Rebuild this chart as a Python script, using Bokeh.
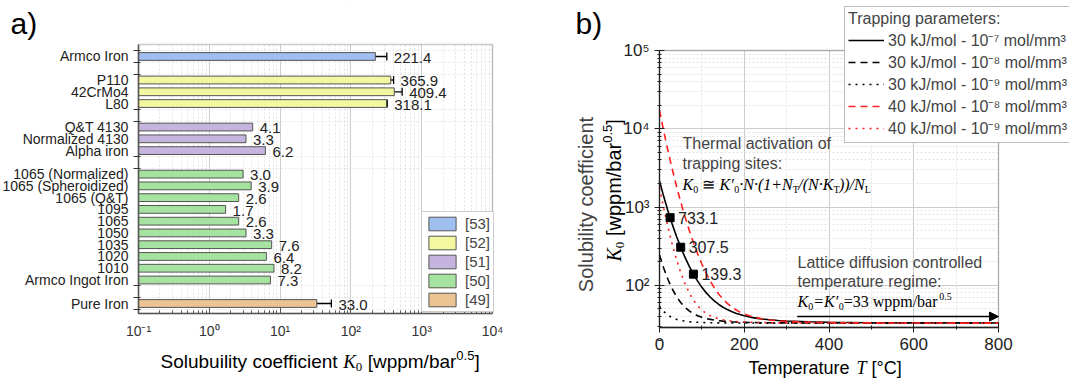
import math
from bokeh.plotting import figure
from bokeh.layouts import row
from bokeh.models import (Range1d, FixedTicker, CustomJSTickFormatter, Label, Legend, LegendItem,
                          Whisker, TeeHead, ColumnDataSource, Arrow, NormalHead, BoxAnnotation)
from bokeh.core.properties import value
from bokeh.embed import file_html
from bokeh.resources import INLINE

# ---------------- Panel a data ----------------
materials = ["Armco Iron", "P110", "42CrMo4", "L80", "Q&T 4130", "Normalized 4130", "Alpha iron",
             "1065 (Normalized)", "1065 (Spheroidized)", "1065 (Q&T)", "1095", "1065", "1050",
             "1035", "1020", "1010", "Armco Ingot Iron", "Pure Iron"]
slots = [0, 2, 3, 4, 6, 7, 8, 10, 11, 12, 13, 14, 15, 16, 17, 18, 19, 21]
k0_values = [221.4, 365.9, 409.4, 318.1, 4.1, 3.3, 6.2, 3.0, 3.9, 2.6, 1.7, 2.6, 3.3,
             7.6, 6.4, 8.2, 7.3, 33.0]
k0_errors = [100.0, 35.0, 120.0, 8.0, 0, 0, 0, 0, 0, 0, 0, 0, 0, 0, 0, 0, 0, 20.0]
references = ["[53]", "[52]", "[52]", "[52]", "[51]", "[51]", "[51]", "[50]", "[50]", "[50]",
              "[50]", "[50]", "[50]", "[50]", "[50]", "[50]", "[50]", "[49]"]
ref_order = ["[53]", "[52]", "[51]", "[50]", "[49]"]
ref_colors = ["#a0bef0", "#f2f7a0", "#c5b5de", "#a6e2a0", "#ecc494"]
group_bounds = [-0.5, 0.5, 1.5, 4.5, 5.5, 8.5, 9.5, 19.5, 20.5, 21.5]
decades_a = [0.1, 1, 10, 100, 1000, 10000]

# ---------------- Panel b data ----------------
temperature = [0, 10, 20, 30, 40, 50, 60, 70, 80, 90, 100, 110, 120, 130, 140, 150, 160, 170,
               180, 190, 200, 220, 240, 260, 280, 300, 350, 400, 500, 600, 700, 800]
k0_30_1e7 = [2152.7, 1362.3, 893.6, 606.4, 425.1, 307.5, 229.4, 176.2, 139.3, 113.3, 94.5, 80.8,
             70.6, 62.9, 57.1, 52.6, 49.1, 46.3, 44.2, 42.4, 41.0, 38.8, 37.4, 36.4, 35.6, 35.1,
             34.3, 33.8, 33.4, 33.2, 33.2, 33.1]
k0_30_1e8 = [245.0, 165.9, 119.1, 90.3, 72.2, 60.4, 52.6, 47.3, 43.6, 41.0, 39.1, 37.8, 36.8,
             36.0, 35.4, 35.0, 34.6, 34.3, 34.1, 33.9, 33.8, 33.6, 33.4, 33.3, 33.3, 33.2, 33.1,
             33.1, 33.0, 33.0, 33.0, 33.0]
k0_30_1e9 = [54.2, 46.3, 41.6, 38.7, 36.9, 35.7, 35.0, 34.4, 34.1, 33.8, 33.6, 33.5, 33.4, 33.3,
             33.2, 33.2, 33.2, 33.1, 33.1, 33.1, 33.1, 33.1, 33.0, 33.0, 33.0, 33.0, 33.0, 33.0,
             33.0, 33.0, 33.0, 33.0]
k0_40_1e8 = [17360, 9332, 5241, 3064, 1859, 1168, 759.3, 509.8, 353.4, 253.2, 187.4, 143.3,
             113.1, 92.2, 77.3, 66.6, 58.9, 53.1, 48.9, 45.6, 43.1, 39.7, 37.6, 36.2, 35.3, 34.7,
             33.9, 33.5, 33.2, 33.1, 33.0, 33.0]
k0_40_1e9 = [1765.7, 962.9, 553.8, 336.1, 215.6, 146.5, 105.6, 80.7, 65.0, 55.0, 48.4, 44.0,
             41.0, 38.9, 37.4, 36.4, 35.6, 35.0, 34.6, 34.3, 34.0, 33.7, 33.5, 33.3, 33.2, 33.2,
             33.1, 33.0, 33.0, 33.0, 33.0, 33.0]
series_labels = ["30 kJ/mol - 10\u207b\u2077 mol/mm\u00b3", "30 kJ/mol - 10\u207b\u2078 mol/mm\u00b3",
                 "30 kJ/mol - 10\u207b\u2079 mol/mm\u00b3", "40 kJ/mol - 10\u207b\u2078 mol/mm\u00b3",
                 "40 kJ/mol - 10\u207b\u2079 mol/mm\u00b3"]
marker_T = [25, 50, 80]
marker_K = [733.1, 307.5, 139.3]
arrow_T = [325, 800]
arrow_K = 40
x_ticks_b = [0, 200, 400, 600, 800]
y_ticks_b = [100, 1000, 10000, 100000]

SANS = "Liberation Sans"
SERIF = "Liberation Serif"
BASELINE_FIX = 0.33   # em shift so that the alphabetic baseline lands where asked

SUP_JS = """
const s = {'-':'\u207b','0':'\u2070','1':'\u00b9','2':'\u00b2','3':'\u00b3','4':'\u2074',
           '5':'\u2075','6':'\u2076','7':'\u2077','8':'\u2078','9':'\u2079'};
const e = Math.round(Math.log10(tick));
return '10' + String(e).split('').map(c => s[c]).join('');
"""


def char_w(c, serif):
    if serif:
        t = {' ': 250, 'K': 667, 'N': 667, 'T': 556, 'L': 556, '(': 333, ')': 333, '+': 675,
             '/': 278, '\u00b7': 250, '\u2245': 838, '\u2032': 250, '=': 675, '.': 250,
             'w': 667, 'p': 500, 'm': 722, 'b': 500, 'a': 500, 'r': 389}
        return t.get(c, 500)
    t = {' ': 278, 'i': 222, 'l': 222, 'j': 222, 'f': 278, 't': 278, '/': 278, '[': 278,
         ']': 278, '.': 278, ',': 278, ':': 278, 'I': 278, 'r': 333, '(': 333, ')': 333,
         '-': 333, '\u00b0': 400, 'c': 500, 'k': 500, 's': 500, 'v': 500, 'x': 500, 'y': 500,
         'z': 500, 'J': 500, 'w': 722, 'C': 722, 'D': 722, 'H': 722, 'N': 722, 'R': 722,
         'm': 833, 'M': 833, 'T': 611, 'F': 611, 'S': 667, 'K': 667, 'E': 667, 'A': 667}
    return t.get(c, 556)


def text_w(txt, size, font):
    return sum(char_w(c, font == SERIF) for c in txt) / 1000.0 * size


def add_label(p, anchor, H, px, py, text, **kw):
    """Place a Label at canvas pixel (px, py) measured from the top-left of the figure."""
    p.add_layout(Label(x=anchor[0], y=anchor[1], x_offset=px, y_offset=H - py, text=text, **kw))


def rich(p, anchor, H, x0, y0, pieces, angle=0.0):
    """pieces: (text, size, font, style, rise_px); x0, y0: canvas px of the baseline start."""
    ca, sa = math.cos(angle), math.sin(angle)
    adv = 0.0
    for txt, size, font, style, rise in pieces:
        lead = txt[:len(txt) - len(txt.lstrip(" "))]
        adv += text_w(lead, size, font)
        body = txt.lstrip(" ")
        r = rise + BASELINE_FIX * size
        px = x0 + ca * adv - sa * r
        py = y0 - sa * adv - ca * r
        add_label(p, anchor, H, px, py, body, text_font=font, text_font_size=f"{size}px",
                  text_font_style=style, text_baseline="alphabetic", text_align="left",
                  angle=angle, text_color="black")
        adv += text_w(body, size, font)


def white_strip(p, **kw):
    p.add_layout(BoxAnnotation(fill_color="white", fill_alpha=1.0, line_alpha=0.0,
                               level="underlay", **kw))


# ================= Panel a =================
WA, HA = 540, 379
BOX_A = dict(left=138, right=492, top=44, bottom=313)     # plot box in canvas px
X_LO_A, X_HI_A = 0.1, 10000.0
Y_TOP_A, Y_BOT_A = -1.02, 21.85
ppd_a = (BOX_A["right"] - BOX_A["left"]) / (math.log10(X_HI_A) - math.log10(X_LO_A))
xa0 = 10 ** (math.log10(X_LO_A) - BOX_A["left"] / ppd_a)
xa1 = 10 ** (math.log10(X_HI_A) + (WA - BOX_A["right"]) / ppd_a)
pps_a = (BOX_A["bottom"] - BOX_A["top"]) / (Y_BOT_A - Y_TOP_A)
ya_top = Y_TOP_A - BOX_A["top"] / pps_a
ya_bot = Y_BOT_A + (HA - BOX_A["bottom"]) / pps_a

pa = figure(width=WA, height=HA, x_axis_type="log", x_range=Range1d(xa0, xa1),
            y_range=Range1d(ya_bot, ya_top), output_backend="svg", toolbar_location=None,
            min_border=0, min_border_left=0, min_border_right=0, min_border_top=0,
            min_border_bottom=0)
pa.outline_line_color = None
pa.background_fill_color = "white"
pa.border_fill_color = "white"
pa.xgrid.level = "image"
pa.ygrid.level = "image"

white_strip(pa, right=X_LO_A)
white_strip(pa, left=X_HI_A)
white_strip(pa, bottom=Y_TOP_A)
white_strip(pa, top=Y_BOT_A)

renderers_a = []
for ref, col in zip(ref_order, ref_colors):
    idx = [i for i, r in enumerate(references) if r == ref]
    src = ColumnDataSource(dict(y=[slots[i] for i in idx], right=[k0_values[i] for i in idx]))
    r = pa.hbar(y="y", right="right", left=X_LO_A, height=0.66, source=src, fill_color=col,
                line_color="#555555", line_width=1)
    renderers_a.append(r)

err_idx = [i for i, e in enumerate(k0_errors) if e > 0]
err_src = ColumnDataSource(dict(base=[slots[i] for i in err_idx],
                                lower=[k0_values[i] - k0_errors[i] for i in err_idx],
                                upper=[k0_values[i] + k0_errors[i] for i in err_idx]))
pa.add_layout(Whisker(source=err_src, base="base", lower="lower", upper="upper",
                      dimension="width", line_color="black", line_width=1.3,
                      upper_head=TeeHead(size=8, line_color="black", line_width=1.3),
                      lower_head=TeeHead(size=8, line_color="black", line_width=1.3)))

label_x = [v + e for v, e in zip(k0_values, k0_errors)]
pa.text(x=label_x, y=[s + 0.1 for s in slots], text=[f"{v:.1f}" for v in k0_values],
        x_offset=7, text_baseline="middle", text_align="left", text_font=value(SANS),
        text_font_size="15px", text_color="#222222")

pa.xaxis.ticker = FixedTicker(ticks=decades_a,
                              minor_ticks=[m * d for d in decades_a[:-1] for m in range(2, 10)])
pa.xaxis.formatter = CustomJSTickFormatter(code=SUP_JS)
pa.xaxis.fixed_location = Y_BOT_A
pa.xaxis.bounds = (X_LO_A, X_HI_A)
pa.xaxis.major_label_text_font = SANS
pa.xaxis.major_label_text_font_size = "14px"
pa.xaxis.major_label_text_color = "#333333"
pa.xaxis.major_label_standoff = 9
pa.xaxis.axis_line_color = "#555555"
pa.xaxis.axis_line_width = 1.5
pa.xaxis.major_tick_line_color = "#555555"
pa.xaxis.minor_tick_line_color = "#555555"
pa.xaxis.major_tick_out = 0
pa.xaxis.major_tick_in = 6
pa.xaxis.minor_tick_out = 0
pa.xaxis.minor_tick_in = 3

pa.yaxis.ticker = FixedTicker(ticks=slots, minor_ticks=group_bounds)
pa.yaxis.formatter = CustomJSTickFormatter(args=dict(slots=slots, names=materials), code="""
const i = slots.indexOf(Math.round(tick));
return i >= 0 ? names[i] : '';
""")
pa.yaxis.fixed_location = X_LO_A
pa.yaxis.bounds = (Y_TOP_A, Y_BOT_A)
pa.yaxis.major_label_text_font = SANS
pa.yaxis.major_label_text_font_size = "14px"
pa.yaxis.major_label_text_color = "#222222"
pa.yaxis.major_label_standoff = 4
pa.yaxis.axis_line_color = "#555555"
pa.yaxis.axis_line_width = 1.5
pa.yaxis.major_tick_line_color = None
pa.yaxis.minor_tick_line_color = "#333333"
pa.yaxis.minor_tick_out = 5
pa.yaxis.minor_tick_in = 2

pa.xgrid.grid_line_color = "#cccccc"
pa.xgrid.minor_grid_line_color = "#e2e2e2"
pa.xgrid.minor_grid_line_dash = "2 2"
pa.ygrid.grid_line_color = None
pa.ygrid.minor_grid_line_color = "#e6e6e6"
pa.ygrid.minor_grid_line_dash = "2 2"

pa.add_layout(BoxAnnotation(left=X_LO_A, right=X_HI_A, top=Y_TOP_A, bottom=Y_BOT_A,
                            fill_alpha=0.0, line_color="#555555", line_width=1.5,
                            level="annotation"))

leg_a = Legend(items=[LegendItem(label=ref, renderers=[r]) for ref, r in zip(ref_order, renderers_a)],
               location=(421, HA - 312), label_text_font=SANS, label_text_font_size="15px",
               glyph_width=34, glyph_height=17, label_height=17, spacing=2, padding=3,
               label_standoff=6, border_line_color="#999999", background_fill_alpha=1.0,
               margin=0)
pa.add_layout(leg_a, "center")

anchor_a = (xa0, ya_bot)
rich(pa, anchor_a, HA, 10, 33, [("a)", 30, SANS, "normal", 0)])
rich(pa, anchor_a, HA, 160, 367, [
    ("Solubuility coefficient ", 19, SANS, "normal", 0),
    ("K", 19, SERIF, "italic", 0),
    ("0", 13, SERIF, "normal", -4),
    (" [wppm/bar", 19, SANS, "normal", 0),
    ("0.5", 13, SANS, "normal", 8),
    ("]", 19, SANS, "normal", 0),
])

# ================= Panel b =================
WB, HB = 529, 379
BOX_B = dict(left=119, right=458, top=50, bottom=327)
X_LO_B, X_HI_B = 0.0, 800.0
Y_LO_B, Y_HI_B = 29.0, 100000.0
ppu_b = (BOX_B["right"] - BOX_B["left"]) / (X_HI_B - X_LO_B)
xb0 = X_LO_B - BOX_B["left"] / ppu_b
xb1 = X_HI_B + (WB - BOX_B["right"]) / ppu_b
ppd_b = (BOX_B["bottom"] - BOX_B["top"]) / (math.log10(Y_HI_B) - math.log10(Y_LO_B))
yb0 = 10 ** (math.log10(Y_LO_B) - (HB - BOX_B["bottom"]) / ppd_b)
yb1 = 10 ** (math.log10(Y_HI_B) + BOX_B["top"] / ppd_b)

pb = figure(width=WB, height=HB, y_axis_type="log", x_range=Range1d(xb0, xb1),
            y_range=Range1d(yb0, yb1), output_backend="svg", toolbar_location=None,
            min_border=0, min_border_left=0, min_border_right=0, min_border_top=0,
            min_border_bottom=0)
pb.outline_line_color = None
pb.border_fill_color = "white"
pb.xgrid.level = "image"
pb.ygrid.level = "image"

white_strip(pb, right=X_LO_B)
white_strip(pb, left=X_HI_B)
white_strip(pb, bottom=Y_HI_B)
white_strip(pb, top=Y_LO_B)

styles = [("black", "solid"), ("black", "7 5"), ("black", "2 5"), ("#ff2020", "7 5"), ("#ff2020", "2 5")]
series = [k0_30_1e7, k0_30_1e8, k0_30_1e9, k0_40_1e8, k0_40_1e9]
renderers_b = []
for ys, (col, dash) in zip(series, styles):
    renderers_b.append(pb.line(temperature, ys, line_color=col, line_dash=dash, line_width=1.6))

pb.scatter(marker_T, marker_K, marker="square", size=8, color="black")
pb.text(x=marker_T, y=marker_K, text=[f"{v:.1f}" for v in marker_K], x_offset=8,
        text_baseline="middle", text_font=value(SANS), text_font_size="16px", text_color="#222222")

pb.add_layout(Arrow(end=NormalHead(size=9, fill_color="black", line_color="black"),
                    x_start=arrow_T[0], y_start=arrow_K, x_end=arrow_T[1], y_end=arrow_K,
                    line_color="black", line_width=1.5))

pb.xaxis.ticker = FixedTicker(ticks=x_ticks_b, minor_ticks=[100, 300, 500, 700])
pb.yaxis.ticker = FixedTicker(ticks=y_ticks_b,
                              minor_ticks=[m * d for d in [10, 100, 1000, 10000] for m in range(2, 10)])
pb.yaxis.formatter = CustomJSTickFormatter(code=SUP_JS)
pb.xaxis.fixed_location = Y_LO_B
pb.xaxis.bounds = (X_LO_B, X_HI_B)
pb.yaxis.fixed_location = X_LO_B
pb.yaxis.bounds = (Y_LO_B, Y_HI_B)
for ax in (pb.xaxis, pb.yaxis):
    ax.major_label_text_font = SANS
    ax.major_label_text_font_size = "17px"
    ax.major_label_text_color = "#222222"
    ax.axis_line_color = "#222222"
    ax.axis_line_width = 1.3
    ax.major_tick_line_color = "#222222"
    ax.minor_tick_line_color = "#222222"
    ax.major_tick_in = 5
    ax.major_tick_out = 5
    ax.minor_tick_in = 2
    ax.minor_tick_out = 2
pb.xgrid.grid_line_color = "#cccccc"
pb.xgrid.minor_grid_line_color = "#e2e2e2"
pb.xgrid.minor_grid_line_dash = "2 2"
pb.ygrid.grid_line_color = "#cccccc"
pb.ygrid.minor_grid_line_color = "#e2e2e2"
pb.ygrid.minor_grid_line_dash = "2 2"

pb.add_layout(BoxAnnotation(left=X_LO_B, right=X_HI_B, top=Y_HI_B, bottom=Y_LO_B,
                            fill_alpha=0.0, line_color="#222222", line_width=1.3,
                            level="annotation"))

leg_b = Legend(items=[LegendItem(label=l, renderers=[r]) for l, r in zip(series_labels, renderers_b)],
               location=(304, HB - 143), title="Trapping parameters:", title_text_font=SANS,
               title_text_font_size="16px", title_text_font_style="normal", title_standoff=1,
               label_text_font=SANS, label_text_font_size="16px", glyph_width=36,
               glyph_height=18, label_height=18, spacing=0, padding=3, label_standoff=4,
               border_line_color="#777777", border_line_width=1, background_fill_alpha=1.0,
               margin=0)
pb.add_layout(leg_b, "center")

anchor_b = (xb0, yb0)
rich(pb, anchor_b, HB, 35, 33, [("b)", 30, SANS, "normal", 0)])
for txt, cy in (("Thermal activation of", 143), ("trapping sites:", 163)):
    add_label(pb, anchor_b, HB, 142, cy, txt, text_font=SANS, text_font_size="16px",
              text_baseline="middle")
for txt, cy in (("Lattice diffusion controlled", 262), ("temperature regime:", 281)):
    add_label(pb, anchor_b, HB, 257, cy, txt, text_font=SANS, text_font_size="16px",
              text_baseline="middle")

rich(pb, anchor_b, HB, 142, 189, [
    ("K", 16, SERIF, "italic", 0), ("0", 10, SERIF, "normal", -3),
    (" \u2245 ", 16, SERIF, "normal", 0),
    ("K\u2032", 16, SERIF, "italic", 0), ("0", 10, SERIF, "normal", -3),
    ("\u00b7N\u00b7(1+N", 16, SERIF, "italic", 0), ("T", 10, SERIF, "normal", -3),
    ("/(N\u00b7K", 16, SERIF, "italic", 0), ("T", 10, SERIF, "normal", -3),
    ("))/N", 16, SERIF, "italic", 0), ("L", 10, SERIF, "normal", -3),
])
rich(pb, anchor_b, HB, 257, 306, [
    ("K", 16, SERIF, "italic", 0), ("0", 10, SERIF, "normal", -3),
    ("=K\u2032", 16, SERIF, "italic", 0), ("0", 10, SERIF, "normal", -3),
    ("=33 wppm/bar", 16, SERIF, "normal", 0), ("0.5", 10, SERIF, "normal", 7),
])

rich(pb, anchor_b, HB, 208, 373, [
    ("Temperature ", 18, SANS, "normal", 0), ("T", 18, SERIF, "italic", 0),
    (" [\u00b0C]", 18, SANS, "normal", 0),
])
add_label(pb, anchor_b, HB, 45, 204, "Solubility coefficient", text_font=SANS,
          text_font_size="20px", text_baseline="middle", text_align="center", angle=math.pi / 2)
rich(pb, anchor_b, HB, 80, 261, [
    ("K", 20, SERIF, "italic", 0), ("0", 13, SERIF, "normal", -4),
    (" [wppm/bar", 20, SANS, "normal", 0), ("0.5", 13, SANS, "normal", 9),
    ("]", 20, SANS, "normal", 0),
], angle=math.pi / 2)

layout = row(pa, pb)
open("out.html", "w").write(file_html(layout, INLINE))
